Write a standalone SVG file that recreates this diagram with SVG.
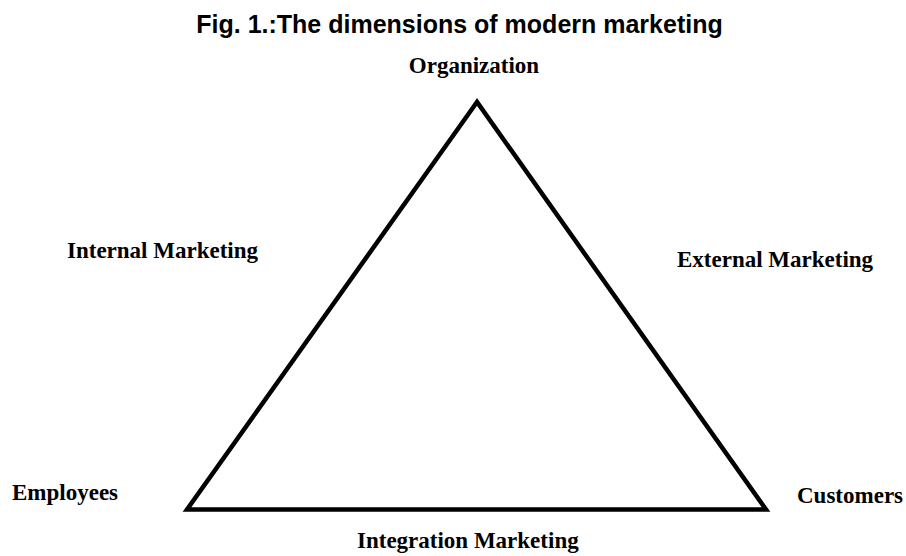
<svg xmlns="http://www.w3.org/2000/svg" width="906" height="556" viewBox="0 0 906 556">
<style>
.t{font-family:"Liberation Serif","Times New Roman",serif;font-weight:bold;font-size:23px;fill:#000}
.h{font-family:"Liberation Sans",Arial,sans-serif;font-weight:bold;font-size:25px;fill:#000}
</style>
<rect width="906" height="556" fill="#fff"/>
<text class="h" x="459.5" y="32.5" text-anchor="middle">Fig. 1.:The dimensions of modern marketing</text>
<g id="connectors">
<polygon points="477,102 187,509.5 766,509.5" fill="none" stroke="#000" stroke-width="4.5" stroke-linejoin="miter"/>
</g>
<g id="organization"><text class="t" x="474" y="73" text-anchor="middle">Organization</text></g>
<g id="internal"><text class="t" x="67" y="258">Internal Marketing</text></g>
<g id="external"><text class="t" x="677" y="267">External Marketing</text></g>
<g id="employees"><text class="t" x="12" y="500">Employees</text></g>
<g id="customers"><text class="t" x="797" y="503">Customers</text></g>
<g id="integration"><text class="t" x="357" y="548">Integration Marketing</text></g>
</svg>
